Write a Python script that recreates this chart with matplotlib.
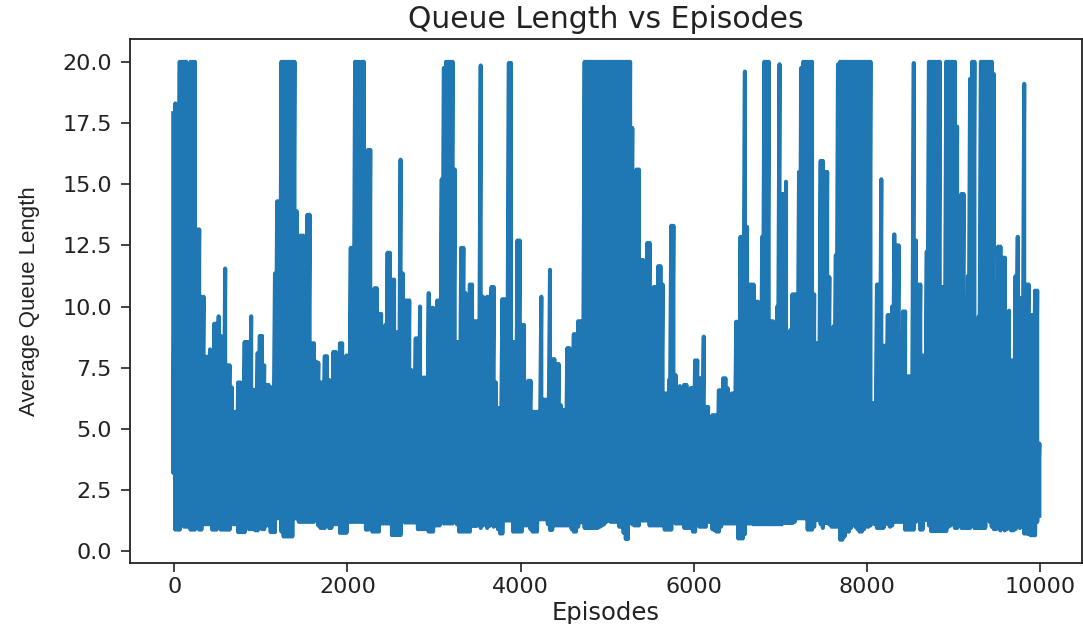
import numpy as np
import matplotlib
matplotlib.use("Agg")
import matplotlib.pyplot as plt

# values, one pair per 25 episodes, 10 per row (250 episodes)
peak_values = [
    17.9, 18.3, 18.0, 20, 20, 20, 20, 17.6, 20, 20,
    20, 13.15, 13.15, 10.4, 10.4, 7.95, 7.95, 8.25, 7.7, 9.3,
    9.3, 9.6, 8.8, 7.3, 11.55, 7.6, 7.6, 6.7, 5.7, 5.7,
    6.9, 6.9, 5.9, 8.55, 8.55, 8.55, 9.6, 6.6, 6.6, 8.1,
    8.8, 8.8, 7.6, 6.8, 6.8, 6.7, 6.7, 11.35, 14.3, 14.3,
    20, 20, 20, 20, 20, 20, 20, 13.9, 12.9, 12.9,
    12.9, 7.55, 13.75, 13.75, 8.5, 8.5, 7.75, 7.7, 6.9, 6.9,
    7.97, 7.97, 7.0, 5.3, 8.15, 8.15, 6.95, 8.5, 8.5, 5.85,
    8.0, 8.0, 12.4, 12.4, 20, 20, 20, 20, 20, 14.2,
    16.4, 16.4, 9.85, 10.75, 10.75, 9.7, 9.7, 5.6, 9.25, 12.2,
    12.2, 11.1, 11.1, 8.95, 8.95, 16.0, 11.35, 10.25, 10.25, 10.25,
    7.4, 4.3, 8.7, 8.7, 10.0, 7.1, 7.1, 7.1, 10.55, 9.95,
    9.95, 5.35, 10.25, 10.25, 15.2, 19.75, 20, 20, 20, 20,
    15.6, 8.55, 8.55, 12.4, 12.4, 10.55, 5.75, 10.9, 10.9, 9.4,
    9.4, 9.4, 19.85, 10.4, 5.3, 10.4, 10.4, 10.8, 10.8, 6.9,
    5.85, 5.85, 10.3, 10.3, 4.4, 19.95, 19.95, 8.55, 8.55, 12.7,
    12.7, 9.25, 9.25, 6.25, 6.97, 6.97, 5.7, 5.7, 5.7, 5.7,
    10.4, 6.2, 6.2, 6.2, 11.5, 7.85, 7.85, 7.65, 7.65, 5.97,
    5.77, 5.77, 8.3, 8.3, 6.9, 8.87, 8.87, 9.4, 9.4, 9.4,
    20, 20, 20, 20, 20, 20, 20, 20, 20, 20,
    20, 20, 20, 20, 20, 20, 20, 20, 20, 20,
    20, 20, 17.3, 8.55, 15.6, 15.6, 11.9, 11.9, 9.75, 12.6,
    12.6, 7.95, 10.8, 10.8, 11.65, 11.65, 10.9, 6.45, 6.45, 7.0,
    13.3, 13.3, 7.2, 5.15, 6.75, 5.6, 6.8, 6.8, 6.1, 6.67,
    6.67, 7.8, 7.8, 7.07, 7.07, 8.77, 5.9, 5.9, 5.3, 5.56,
    5.56, 5.56, 6.58, 6.58, 7.07, 7.07, 6.67, 5.97, 6.45, 6.45,
    9.38, 9.38, 12.85, 12.85, 19.6, 13.25, 10.9, 10.9, 10.9, 10.2,
    10.2, 8.63, 12.85, 20, 20, 20, 9.4, 9.4, 7.67, 10.0,
    19.9, 14.6, 14.6, 15.1, 8.35, 9.04, 10.5, 10.5, 10.5, 15.5,
    19.75, 20, 20, 20, 20, 20, 10.5, 8.5, 8.5, 15.95,
    15.95, 15.5, 15.5, 11.2, 4.6, 9.2, 12.1, 19.9, 20, 20,
    20, 20, 20, 20, 20, 20, 20, 20, 20, 20,
    20, 20, 20, 6.05, 6.05, 10.9, 10.9, 15.2, 8.4, 8.4,
    9.65, 9.65, 10.0, 12.95, 12.5, 12.5, 5.5, 9.8, 9.8, 7.15,
    7.15, 7.15, 19.95, 12.7, 10.9, 10.9, 8.0, 8.0, 12.25, 20,
    20, 20, 20, 20, 20, 10.8, 10.8, 20, 20, 20,
    20, 20, 17.35, 7.33, 14.6, 14.6, 7.85, 11.25, 19.3, 20,
    20, 5.5, 9.6, 20, 20, 20, 20, 20, 20, 19.5,
    9.5, 12.45, 12.45, 12.0, 12.0, 6.8, 9.83, 7.8, 7.8, 11.25,
    12.85, 10.35, 10.25, 19.1, 10.9, 10.9, 9.65, 9.65, 10.65, 10.65,
    4.4,
]

trough_values = [
    3.2, .88, .88, .88, 1.3, 1.0, 1.0, 1.0, .88, .88,
    .88, 1.2, .88, .88, 1.1, 1.1, 1.1, 1.1, .88, .88,
    .88, 1.25, .88, .88, .88, .88, .88, 1.1, 1.1, 1.1,
    .78, .78, .78, .78, 1.2, .9, .9, .9, .85, .85,
    1.1, .9, .9, 1.05, 1.05, .78, .78, .78, 1.34, 1.34,
    .8, .6, .6, .6, .6, .6, 1.34, 1.34, 1.2, 1.2,
    1.2, 1.2, 1.2, 1.2, 1.2, 1.2, 1.34, 1.05, .95, .95,
    .95, 1.05, .95, .95, 1.1, 1.1, 1.1, .75, .75, .75,
    .75, 1.2, 1.2, 1.2, 1.2, 1.2, 1.2, 1.2, 1.2, .88,
    .88, 1.25, .8, .8, .8, .8, 1.13, 1.13, 1.13, 1.13,
    1.13, .66, .66, .66, .66, .66, 1.45, 1.17, 1.17, 1.17,
    1.17, 1.17, 1.17, .9, .9, .9, .9, .9, .8, .8,
    .8, 1.05, 1.05, 1.05, 1.54, 1.13, 1.13, 1.13, 1.13, 1.13,
    1.4, 1.1, .8, .8, .8, .8, .8, .8, 1.03, 1.03,
    1.03, 1.1, .95, 1.05, 1.1, .95, 1.03, 1.1, 1.0, 1.03,
    .9, .72, .72, 1.25, 1.25, 1.25, 1.25, .8, .8, .8,
    .8, .8, 1.05, 1.05, 1.05, .9, .8, .8, .8, 1.3,
    1.3, 1.3, 1.3, 1.1, .87, .87, 1.05, 1.05, 1.05, 1.05,
    1.05, 1.05, 1.05, 1.05, .9, .8, .8, 1.0, 1.18, 1.18,
    .95, .95, .95, .95, .95, .95, .95, 1.0, 1.05, 1.1,
    1.2, 1.25, 1.2, 1.2, 1.2, 1.2, 1.0, 1.0, .75, .5,
    .5, 1.4, 1.1, 1.05, 1.05, 1.05, 1.25, 1.25, 1.25, 1.25,
    1.05, 1.05, 1.05, 1.05, 1.05, 1.05, 1.05, .88, .88, .88,
    .88, 1.5, 1.13, 1.13, 1.13, 1.13, .95, .95, .95, .95,
    .8, .8, 1.4, 1.0, 1.0, 1.0, 1.0, 1.2, 1.2, .9,
    .85, .8, .8, 1.0, 1.13, 1.13, 1.13, 1.13, 1.13, 1.13,
    1.13, .52, .52, .52, .7, 1.13, 1.13, 1.13, 1.1, 1.1,
    1.1, 1.1, 1.1, 1.1, 1.1, 1.1, 1.1, 1.1, 1.1, 1.1,
    1.1, 1.1, 1.15, 1.15, 1.15, 1.15, 1.15, 1.2, 1.34, 1.34,
    1.34, 1.34, 1.34, .88, .88, .88, 1.0, 1.27, 1.27, 1.1,
    .95, 1.15, 1.15, 1.1, 1.0, 1.0, 1.0, 1.0, .47, .47,
    .6, .8, .8, .95, 1.13, 1.0, .9, .8, .8, .9,
    1.0, 1.0, 1.05, 1.25, 1.1, .95, .95, .95, .95, 1.2,
    1.1, 1.0, 1.05, 1.2, 1.2, 1.2, 1.2, 1.2, .88, .88,
    .88, .88, .88, 1.2, 1.4, .88, .88, 1.28, 1.28, 1.05,
    .82, .82, .82, .82, .82, .82, .82, .82, 1.0, 1.05,
    1.1, .95, .95, 1.15, .95, .95, .95, .95, .95, 1.15,
    .95, .95, .95, .95, .95, .95, 1.4, 1.2, 1.0, .9,
    .9, 1.05, .85, 1.05, .85, .9, .95, .85, .85, .9,
    1.05, .95, 1.0, .72, .72, .7, .65, .65, .65, 1.2,
    1.45,
]

x_ticks = [0, 2000, 4000, 6000, 8000, 10000]
y_ticks = [0.0, 2.5, 5.0, 7.5, 10.0, 12.5, 15.0, 17.5, 20.0]


def get_line(peaks, troughs):
    # each 25 episode step goes up to its peak and back down to its trough
    xx = []
    yy = []
    for i in range(len(peaks)):
        ep = i * 25 - 12
        xx += [ep, ep]
        yy += [peaks[i], troughs[i]]
    return xx, yy


def draw_result(xx, yy):
    fig = plt.figure(figsize=(10.83, 6.24), dpi=100)
    ax = fig.add_axes([130 / 1083, 61 / 624, 952 / 1083, 524 / 624])
    ax.plot(xx, yy, color="#1f77b4", linewidth=2.9)

    ax.set_xlim(-511, 10480)
    ax.set_ylim(-0.48, 20.93)
    ax.set_xticks(x_ticks)
    ax.set_yticks(y_ticks)
    ax.set_yticklabels(["%.1f" % t for t in y_ticks])
    ax.tick_params(axis="both", labelsize=16, length=6.5, width=1.2, colors="#222222")
    ax.tick_params(axis="y", pad=6.5)
    for sp in ax.spines.values():
        sp.set_linewidth(1.3)
        sp.set_color("#222222")

    ax.set_title("Queue Length vs Episodes", fontsize=21.5, color="#222222", pad=8)
    ax.set_xlabel("Episodes", fontsize=17.5, color="#222222", labelpad=3)
    ax.set_ylabel("Average Queue Length", fontsize=16, family="Liberation Sans",
                  color="#222222", labelpad=16)

    fig.savefig("out.png", dpi=100)


if __name__ == '__main__':
    assert len(peak_values) == len(trough_values)
    xx, yy = get_line(peak_values, trough_values)
    draw_result(xx, yy)
